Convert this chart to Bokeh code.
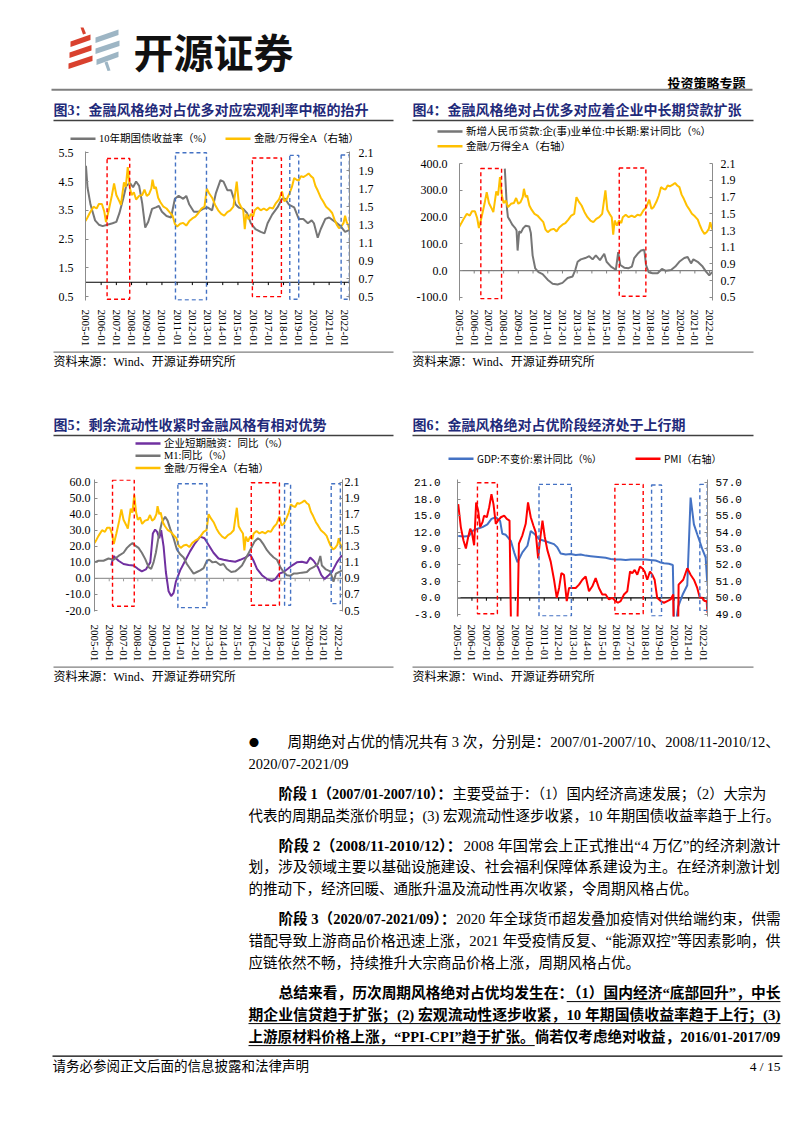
import math
from bokeh.plotting import figure
from bokeh.layouts import column, row
from bokeh.models import Range1d, LinearAxis, FixedTicker, Span, NumeralTickFormatter
from bokeh.core.properties import value
from bokeh.embed import file_html
from bokeh.resources import INLINE

# ---------------------------------------------------------------- data
YEARS = list(range(2005, 2023))
YEAR_LABELS = {y: "%d-01" % y for y in YEARS}

# 金融/万得全A (right axis of charts 3, 4, 5)
FIN_RATIO = [(2004.97, 1.34), (2005.1, 1.38), (2005.25, 1.43), (2005.5, 1.50), (2005.7, 1.48), (2005.85, 1.53),
             (2006.05, 1.53), (2006.2, 1.45), (2006.32, 1.33), (2006.5, 1.46), (2006.7, 1.62), (2006.85, 1.76),
             (2007.0, 1.63), (2007.2, 1.56), (2007.3, 1.52), (2007.5, 1.77), (2007.62, 1.72), (2007.75, 1.94),
             (2007.88, 1.72), (2008.0, 1.63), (2008.15, 1.66), (2008.3, 1.58), (2008.5, 1.62), (2008.7, 1.63),
             (2008.85, 1.69), (2009.0, 1.62), (2009.15, 1.64), (2009.3, 1.70), (2009.38, 1.80), (2009.5, 1.70),
             (2009.6, 1.72), (2009.75, 1.60), (2009.9, 1.55), (2010.1, 1.50), (2010.3, 1.48), (2010.5, 1.44),
             (2010.7, 1.40), (2010.85, 1.31), (2011.0, 1.28), (2011.2, 1.31), (2011.4, 1.32), (2011.6, 1.29),
             (2011.8, 1.34), (2012.0, 1.37), (2012.2, 1.39), (2012.4, 1.43), (2012.6, 1.48), (2012.8, 1.50),
             (2012.95, 1.70), (2013.1, 1.65), (2013.3, 1.60), (2013.5, 1.52), (2013.7, 1.46), (2013.9, 1.42),
             (2014.1, 1.40), (2014.3, 1.44), (2014.5, 1.46), (2014.7, 1.50), (2014.92, 1.78), (2015.05, 1.55),
             (2015.2, 1.50), (2015.35, 1.46), (2015.45, 1.25), (2015.55, 1.42), (2015.7, 1.36), (2015.85, 1.42),
             (2016.0, 1.39), (2016.1, 1.46), (2016.3, 1.49), (2016.5, 1.46), (2016.7, 1.48), (2016.9, 1.46),
             (2017.1, 1.49), (2017.3, 1.48), (2017.5, 1.54), (2017.7, 1.58), (2017.9, 1.67), (2018.05, 1.56),
             (2018.2, 1.58), (2018.4, 1.65), (2018.55, 1.72), (2018.7, 1.82), (2018.85, 1.80), (2019.0, 1.79),
             (2019.15, 1.84), (2019.3, 1.83), (2019.5, 1.85), (2019.65, 1.87), (2019.8, 1.84), (2019.95, 1.82),
             (2020.1, 1.73), (2020.25, 1.68), (2020.45, 1.60), (2020.6, 1.56), (2020.8, 1.50), (2021.0, 1.47),
             (2021.2, 1.43), (2021.35, 1.36), (2021.5, 1.30), (2021.65, 1.26), (2021.8, 1.28), (2021.95, 1.32),
             (2022.05, 1.40), (2022.15, 1.33), (2022.25, 1.30), (2022.34, 1.24)]

# 10年期国债收益率 (%)
BOND_10Y = [(2005.0, 5.05), (2005.1, 4.3), (2005.3, 3.7), (2005.6, 3.15), (2005.85, 3.0), (2006.1, 2.95),
            (2006.4, 3.0), (2006.75, 3.05), (2007.0, 3.1), (2007.2, 3.4), (2007.45, 3.9), (2007.65, 4.35),
            (2007.9, 4.45), (2008.1, 4.3), (2008.3, 4.5), (2008.5, 4.35), (2008.7, 3.75), (2008.9, 2.9),
            (2009.1, 3.1), (2009.35, 3.55), (2009.6, 3.6), (2009.8, 3.65), (2010.0, 3.45), (2010.3, 3.3),
            (2010.6, 3.25), (2010.85, 3.9), (2011.1, 4.0), (2011.4, 3.9), (2011.6, 4.0), (2011.8, 3.7),
            (2012.1, 3.45), (2012.4, 3.45), (2012.7, 3.55), (2013.0, 3.6), (2013.3, 3.5), (2013.55, 4.1),
            (2013.85, 4.55), (2014.05, 4.5), (2014.3, 4.2), (2014.55, 4.2), (2014.85, 3.7), (2015.05, 3.6),
            (2015.35, 3.55), (2015.6, 3.4), (2015.85, 3.05), (2016.15, 2.85), (2016.5, 2.75), (2016.75, 2.7),
            (2016.95, 3.05), (2017.25, 3.35), (2017.6, 3.6), (2017.9, 3.9), (2018.1, 3.9), (2018.35, 3.7),
            (2018.7, 3.6), (2019.0, 3.2), (2019.3, 3.2), (2019.6, 3.05), (2019.85, 3.15), (2020.0, 3.05),
            (2020.25, 2.55), (2020.45, 2.85), (2020.75, 3.2), (2021.0, 3.25), (2021.4, 3.1), (2021.75, 2.95),
            (2022.05, 2.75), (2022.34, 2.82)]

# 新增人民币贷款:企(事)业单位:中长期:累计同比 (%)
LOAN_YOY = [(2008.08, 382), (2008.15, 310), (2008.22, 237), (2008.29, 201), (2008.42, 189), (2008.6, 171),
            (2008.79, 159), (2008.88, 150), (2008.95, 75), (2009.06, 147), (2009.17, 141), (2009.33, 159),
            (2009.5, 168), (2009.74, 165), (2009.85, 141), (2009.97, 57), (2010.15, 8), (2010.37, -6),
            (2010.65, -13), (2010.99, -34), (2011.33, -49), (2011.67, -52), (2012.0, -46), (2012.35, -28),
            (2012.69, -22), (2012.87, 2), (2013.03, 33), (2013.25, 42), (2013.55, 47), (2013.82, 54),
            (2014.05, 42), (2014.27, 57), (2014.55, 39), (2014.84, 63), (2015.0, 33), (2015.3, 15),
            (2015.63, 3), (2015.79, 69), (2015.93, 21), (2016.2, 11), (2016.5, 9), (2016.72, 15),
            (2016.88, 47), (2017.11, 63), (2017.34, 75), (2017.56, 78), (2017.68, 21), (2017.86, -6),
            (2018.13, -10), (2018.47, -10), (2018.76, 6), (2019.04, -1), (2019.38, 2), (2019.67, 15),
            (2019.94, 33), (2020.28, 47), (2020.51, 51), (2020.74, 27), (2020.9, 42), (2021.19, 33),
            (2021.53, 15), (2021.76, -4), (2021.98, -18), (2022.17, -6)]

# 企业短期融资：同比 (%)
SHORT_FIN = [(2006.14, 8), (2006.3, 14), (2006.65, 11), (2007.0, 9), (2007.35, 8.4), (2007.7, 8), (2008.0, 6),
             (2008.28, 4.4), (2008.56, 5.6), (2008.87, 10), (2009.05, 28), (2009.21, 30.4), (2009.35, 29),
             (2009.5, 25), (2009.63, 30), (2009.8, 20), (2009.96, 4), (2010.15, -8), (2010.33, -11),
             (2010.5, -9), (2010.66, -2), (2010.96, 5), (2011.31, 11), (2011.66, 17), (2012.01, 22),
             (2012.36, 26), (2012.66, 25), (2012.94, 21), (2013.29, 16), (2013.64, 12.4), (2013.99, 11.6),
             (2014.34, 11), (2014.81, 10.4), (2015.16, 11.6), (2015.51, 13), (2015.86, 15), (2016.09, 11),
             (2016.33, 6), (2016.68, 2), (2017.03, -0.4), (2017.37, -1.6), (2017.61, -0.4), (2017.89, 3),
             (2018.19, 4), (2018.49, 6), (2018.77, 8), (2019.12, 10), (2019.47, 10.4), (2019.82, 9.6),
             (2020.05, 13), (2020.29, 11), (2020.59, 7), (2020.83, 2), (2021.06, -0.4), (2021.3, 1.6),
             (2021.57, 4), (2021.92, 10), (2022.27, 14.4)]

# M1:同比 (%)
M1_YOY = [(2004.97, 10), (2005.25, 11), (2005.6, 11), (2005.95, 12.4), (2006.3, 11.6), (2006.65, 14),
          (2007.0, 16), (2007.24, 19), (2007.47, 21), (2007.63, 22), (2007.82, 20.4), (2008.05, 19),
          (2008.28, 16), (2008.52, 12), (2008.75, 7), (2008.93, 6), (2009.1, 10), (2009.26, 16),
          (2009.45, 26), (2009.68, 35), (2009.91, 38.4), (2010.08, 36), (2010.26, 31), (2010.5, 25),
          (2010.73, 18), (2010.96, 15), (2011.2, 13), (2011.43, 9), (2011.66, 6), (2011.9, 3), (2012.13, 4),
          (2012.36, 5), (2012.6, 6.4), (2012.83, 11), (2013.0, 11.6), (2013.22, 10), (2013.46, 10.4),
          (2013.76, 8.4), (2013.99, 9), (2014.22, 6), (2014.53, 4), (2014.81, 4.4), (2015.04, 6),
          (2015.28, 8), (2015.46, 11), (2015.7, 15), (2015.93, 19), (2016.16, 23), (2016.4, 25),
          (2016.56, 24), (2016.8, 21), (2017.03, 17.6), (2017.27, 15), (2017.5, 13), (2017.73, 11.6),
          (2017.97, 7), (2018.19, 4), (2018.42, 2), (2018.65, 1.6), (2018.89, 3), (2019.12, 3),
          (2019.47, 3.6), (2019.82, 4), (2020.05, 6), (2020.29, 7), (2020.59, 9), (2020.76, 14),
          (2020.87, 8), (2021.15, 5.6), (2021.45, 4.4), (2021.68, -2), (2021.85, 3), (2022.08, 4),
          (2022.27, 5)]

# GDP:不变价:累计同比 (%)
GDP_YOY = [(2005.05, 11.3), (2005.46, 11.2), (2005.8, 11.3), (2006.04, 12.2), (2006.38, 12.6), (2006.73, 12.9),
           (2007.07, 13.4), (2007.35, 14.4), (2007.65, 14.7), (2007.95, 14.0), (2008.1, 11.7), (2008.34, 11.5),
           (2008.69, 10.4), (2008.92, 8.3), (2009.15, 6.5), (2009.49, 8.3), (2009.84, 9.5), (2010.07, 12.2),
           (2010.35, 11.6), (2010.65, 10.7), (2010.99, 10.4), (2011.34, 10.1), (2011.68, 9.8), (2011.91, 9.2),
           (2012.14, 8.1), (2012.49, 7.9), (2012.83, 8.0), (2013.18, 7.8), (2013.53, 7.9), (2013.87, 7.7),
           (2014.22, 7.6), (2014.56, 7.5), (2014.91, 7.4), (2015.25, 7.3), (2015.6, 7.1), (2015.94, 7.0),
           (2016.29, 7.0), (2016.64, 6.9), (2016.98, 7.0), (2017.33, 7.0), (2017.67, 7.0), (2018.02, 7.0),
           (2018.36, 6.9), (2018.71, 6.8), (2019.0, 6.5), (2019.29, 6.3), (2019.63, 6.2), (2019.9, 6.0),
           (2020.0, -6.8), (2020.27, -1.6), (2020.6, 0.7), (2020.9, 2.3), (2021.13, 18.3), (2021.36, 13.4),
           (2021.59, 11.6), (2021.94, 8.9), (2022.17, 7.4), (2022.28, 2.9)]

# PMI (right axis)
PMI = [(2005.05, 55.7), (2005.23, 54.3), (2005.41, 53.5), (2005.58, 53.0), (2005.74, 53.7), (2005.88, 54.2),
       (2005.99, 54.0), (2006.15, 53.2), (2006.29, 55.8), (2006.43, 55.3), (2006.57, 54.3), (2006.73, 54.6),
       (2006.84, 55.0), (2007.03, 54.9), (2007.19, 55.5), (2007.35, 56.3), (2007.49, 55.7), (2007.65, 54.5),
       (2007.81, 54.7), (2008.0, 54.9), (2008.23, 55.0), (2008.41, 54.8), (2008.6, 54.7), (2008.85, 38.8),
       (2009.0, 41.2), (2009.25, 53.3), (2009.49, 53.8), (2009.72, 54.5), (2009.88, 55.8), (2010.07, 54.9),
       (2010.25, 54.4), (2010.41, 54.0), (2010.58, 52.4), (2010.71, 53.5), (2010.88, 54.7), (2011.04, 53.7),
       (2011.22, 52.9), (2011.45, 52.2), (2011.68, 51.1), (2011.87, 50.0), (2012.03, 50.6), (2012.19, 51.5),
       (2012.37, 51.4), (2012.56, 49.8), (2012.72, 50.6), (2012.88, 50.6), (2013.18, 50.6), (2013.41, 50.8),
       (2013.64, 51.1), (2013.87, 51.3), (2014.1, 50.4), (2014.33, 50.7), (2014.56, 51.2), (2014.79, 50.6),
       (2015.02, 50.2), (2015.25, 50.2), (2015.48, 49.9), (2015.71, 50.0), (2015.94, 49.8), (2016.1, 49.7),
       (2016.29, 49.8), (2016.52, 50.2), (2016.75, 50.4), (2016.94, 51.6), (2017.1, 51.5), (2017.26, 51.7),
       (2017.44, 51.4), (2017.63, 51.9), (2017.79, 51.8), (2017.95, 51.6), (2018.13, 51.1), (2018.32, 51.6),
       (2018.48, 51.4), (2018.64, 51.1), (2018.82, 50.0), (2019.06, 49.8), (2019.29, 49.7), (2019.52, 49.8),
       (2019.75, 49.9), (2019.93, 50.2), (2020.12, 35.7), (2020.3, 50.8), (2020.62, 51.1), (2020.9, 51.8),
       (2021.13, 51.4), (2021.36, 51.1), (2021.59, 50.6), (2021.77, 50.0), (2021.94, 50.0), (2022.1, 49.8),
       (2022.24, 49.8), (2022.3, 49.1)]

# highlighted periods (dashed boxes): kind r = red box, b = blue box
BOX3_KIND = ["r", "b", "r", "b", "b"]
BOX3_X0 = [2006.39, 2010.89, 2015.95, 2018.41, 2021.79]
BOX3_X1 = [2007.88, 2012.93, 2017.86, 2019.0, 2022.33]
BOX3_Y0 = [0.41, 0.38, 0.5, 0.41, 0.41]
BOX3_Y1 = [5.3, 5.5, 5.32, 5.41, 5.42]

BOX4_KIND = ["r", "r"]
BOX4_X0 = [2006.45, 2015.86]
BOX4_X1 = [2007.86, 2017.67]
BOX4_Y0 = [-105, -96]
BOX4_Y1 = [382, 384]

BOX5_KIND = ["r", "b", "r", "b", "b"]
BOX5_X0 = [2006.23, 2010.8, 2015.93, 2018.26, 2021.52]
BOX5_X1 = [2007.75, 2012.83, 2017.9, 2018.68, 2022.16]
BOX5_Y0 = [-17.3, -18.2, -16.7, -16.7, -15.7]
BOX5_Y1 = [61.2, 59, 59.6, 59, 59]

BOX6_KIND = ["r", "b", "r", "b", "b"]
BOX6_X0 = [2006.38, 2010.64, 2015.89, 2018.43, 2021.77]
BOX6_X1 = [2007.76, 2012.88, 2017.85, 2019.12, 2022.28]
BOX6_Y0 = [-2.9, -3.3, -2.9, -3.3, -2.3]
BOX6_Y1 = [21.0, 20.7, 20.7, 20.6, 20.7]

# ---------------------------------------------------------------- styles
SERIF = "Liberation Serif, Noto Sans CJK SC"
SANS = "Noto Sans CJK SC"
MONO = "Liberation Mono"
NAVY = "#1F2A7A"
AXC = "#8C8C8C"
GOLD = "#FFC000"
GREY = "#767676"
PURPLE = "#7030A0"
BLUE = "#4472C4"
RED = "#FF0000"
BOX_COLORS = {"r": "#FF0000", "b": "#4472C4"}


def xs(d):
    return [a for a, b in d]


def ys(d):
    return [b for a, b in d]


def no_align(p):
    try:
        p.frame_align = False
    except Exception:
        pass
    return p


def canvas(x0, y0, w, h):
    p = figure(width=w, height=h, x_range=Range1d(x0, x0 + w), y_range=Range1d(y0 + h, y0),
               x_axis_type=None, y_axis_type=None, toolbar_location=None,
               output_backend="svg", min_border=0, outline_line_color=None)
    return no_align(p)


def text(p, x, y, s, size, font=SERIF, color="#000000", bold=False, align="left"):
    p.text(x=[x], y=[y], text=[s], text_font=value(font), text_font_size=value("%.2fpx" % size),
           text_font_style=value("bold" if bold else "normal"), text_color=value(color),
           text_align=value(align), text_baseline=value("middle"))


def hline(p, x0, x1, y, color, width):
    p.segment(x0=[x0], y0=[y], x1=[x1], y1=[y], line_color=color, line_width=width)


def chart(w, h, borders, xr, yl, yr, lticks, rticks, yfont, ysize, lstand, rstand, xstand):
    bl, br, bt, bb = borders
    p = figure(width=w, height=h, x_range=Range1d(*xr), y_range=Range1d(*yl),
               toolbar_location=None, output_backend="svg",
               min_border_left=bl, min_border_right=br, min_border_top=bt, min_border_bottom=bb,
               outline_line_color=None)
    no_align(p)
    p.xgrid.visible = False
    p.ygrid.visible = False
    la = p.yaxis[0]
    p.extra_y_ranges = {"r": Range1d(*yr)}
    ra = LinearAxis(y_range_name="r")
    p.add_layout(ra, "right")
    for ax, ticks, st in ((la, lticks, lstand), (ra, rticks, rstand)):
        ax.ticker = FixedTicker(ticks=ticks)
        ax.formatter = NumeralTickFormatter(format="0.0")
        ax.axis_line_color = AXC
        ax.axis_line_width = 1
        ax.major_tick_line_color = AXC
        ax.major_tick_in = 3
        ax.major_tick_out = 0
        ax.minor_tick_line_color = None
        ax.major_label_standoff = st
        ax.major_label_text_font = yfont
        ax.major_label_text_font_size = ysize
        ax.major_label_text_color = "#000000"
    xa = p.xaxis[0]
    xa.ticker = FixedTicker(ticks=YEARS)
    xa.major_label_overrides = YEAR_LABELS
    xa.major_label_orientation = -math.pi / 2
    xa.axis_line_color = None
    xa.major_tick_line_color = None
    xa.minor_tick_line_color = None
    xa.major_label_standoff = xstand
    xa.major_label_text_font = "Liberation Serif"
    xa.major_label_text_font_size = "11px"
    xa.major_label_text_color = "#000000"
    return p


def zero_line(p, level, color, tick_len):
    sp = Span(location=level, dimension="width", line_color=color, line_width=1.2)
    sp.level = "underlay"
    p.add_layout(sp)
    t = YEARS[1:]
    p.segment(x0=t, y0=[level] * len(t), x1=t, y1=[level - tick_len] * len(t),
              line_color=color, line_width=1)


def boxes(p, kind, x0, x1, y0, y1):
    p.quad(left=x0, right=x1, bottom=y0, top=y1, fill_color=None,
           line_color=[BOX_COLORS[k] for k in kind], line_dash="4 3", line_width=1.4)


def legend_item(p, x, y, color, label, size=10.5, font=SERIF):
    hline(p, x, x + 25, y, color, 2.5)
    text(p, x + 28.5, y, label, size, font=font)


# ---------------------------------------------------------------- header
hdr = canvas(0, 0, 802, 100)
RED_LOGO = [[(70, 41), (90, 34), (90, 39.5), (70, 46.5)],
            [(69, 52), (91, 44.5), (91, 50), (69, 57.5)],
            [(68, 63), (92, 55), (92, 60.5), (68, 68.5)],
            [(80, 27), (83, 27), (85.5, 33), (82.5, 34)]]
BLUE_LOGO = [[(95, 37), (118, 29), (118, 34.5), (95, 42.5)],
             [(95, 48), (119, 40), (119, 45.5), (95, 53.5)],
             [(96, 59), (118, 51), (118, 56.5), (96, 64.5)],
             [(104, 62), (107, 61), (110, 70), (107, 70.5)]]
for polys, col in ((RED_LOGO, "#D9412E"), (BLUE_LOGO, "#9DB5C4")):
    hdr.patches(xs=[[pt[0] for pt in pl] for pl in polys], ys=[[pt[1] for pt in pl] for pl in polys],
                fill_color=col, line_color=None)
text(hdr, 133, 50, "开源证券", 40, font=SANS, bold=True, color="#111111")
text(hdr, 745, 81.5, "投资策略专题", 13, font=SANS, bold=True, align="right")
hline(hdr, 51, 752, 89.3, "#7F7F7F", 2)

# ---------------------------------------------------------------- chart 3
t3 = canvas(0, 100, 402, 45)
text(t3, 53, 110, "图3：金融风格绝对占优多对应宏观利率中枢的抬升", 14, color=NAVY, bold=True)
hline(t3, 53, 393, 120, "#404040", 1.3)
legend_item(t3, 70, 138.3, GREY, "10年期国债收益率（%）")
legend_item(t3, 225, 138.3, GOLD, "金融/万得全A（右轴）")

p3 = chart(402, 204, (85, 53, 6, 44), (2004.97, 2022.34), (0.365, 5.544), (0.4568, 2.114),
           [0.5, 1.5, 2.5, 3.5, 4.5, 5.5], [0.5, 0.7, 0.9, 1.1, 1.3, 1.5, 1.7, 1.9, 2.1],
           "Liberation Serif", "12px", 12, 9, 3)
zero_line(p3, 1.0, "#000000", 0.1)
p3.line(xs(BOND_10Y), ys(BOND_10Y), line_color=GREY, line_width=2)
p3.line(xs(FIN_RATIO), ys(FIN_RATIO), line_color=GOLD, line_width=2, y_range_name="r")
boxes(p3, BOX3_KIND, BOX3_X0, BOX3_X1, BOX3_Y0, BOX3_Y1)

s3 = canvas(0, 349, 402, 23)
hline(s3, 53, 393, 351.7, "#7F7F7F", 1.2)
text(s3, 53, 361.7, "资料来源：Wind、开源证券研究所", 12)

# ---------------------------------------------------------------- chart 4
t4 = canvas(402, 100, 400, 53)
text(t4, 412, 110, "图4：金融风格绝对占优多对应着企业中长期贷款扩张", 14, color=NAVY, bold=True)
hline(t4, 412, 753, 120, "#404040", 1.3)
legend_item(t4, 437, 131, GREY, "新增人民币贷款:企(事)业单位:中长期:累计同比（%）")
legend_item(t4, 437, 145.7, GOLD, "金融/万得全A（右轴）")

p4 = chart(400, 196, (57, 90, 10, 44), (2005.0, 2022.2), (-112, 401), (0.4616, 2.1032),
           [-100, 0, 100, 200, 300, 400], [0.5, 0.7, 0.9, 1.1, 1.3, 1.5, 1.7, 1.9, 2.1],
           "Liberation Serif", "12px", 12, 8, 3)
zero_line(p4, 0, "#7F7F7F", 10.8)
p4.line(xs(LOAN_YOY), ys(LOAN_YOY), line_color=GREY, line_width=2)
p4.line(xs(FIN_RATIO), ys(FIN_RATIO), line_color=GOLD, line_width=2, y_range_name="r")
boxes(p4, BOX4_KIND, BOX4_X0, BOX4_X1, BOX4_Y0, BOX4_Y1)

s4 = canvas(402, 349, 400, 23)
hline(s4, 412, 753, 351.7, "#7F7F7F", 1.2)
text(s4, 412, 361.7, "资料来源：Wind、开源证券研究所", 12)

# ---------------------------------------------------------------- chart 5
t5 = canvas(0, 372, 402, 102)
text(t5, 53, 425, "图5：剩余流动性收紧时金融风格有相对优势", 14, color=NAVY, bold=True)
hline(t5, 53, 393, 435, "#404040", 1.3)
legend_item(t5, 135, 443, PURPLE, "企业短期融资：同比（%）")
legend_item(t5, 135, 455.3, GREY, "M1:同比（%）")
legend_item(t5, 135, 467.6, GOLD, "金融/万得全A（右轴）")

p5 = chart(402, 190, (94, 60, 5, 48), (2004.97, 2022.31), (-20.6, 61.6), (0.488, 2.132),
           [-20, -10, 0, 10, 20, 30, 40, 50, 60], [0.5, 0.7, 0.9, 1.1, 1.3, 1.5, 1.7, 1.9, 2.1],
           "Liberation Serif", "12px", 4, 2, 7)
zero_line(p5, 0, "#9A9A9A", 1.8)
p5.line(xs(SHORT_FIN), ys(SHORT_FIN), line_color=PURPLE, line_width=2)
p5.line(xs(M1_YOY), ys(M1_YOY), line_color=GREY, line_width=2)
p5.line(xs(FIN_RATIO), ys(FIN_RATIO), line_color=GOLD, line_width=2, y_range_name="r")
boxes(p5, BOX5_KIND, BOX5_X0, BOX5_X1, BOX5_Y0, BOX5_Y1)

s5 = canvas(0, 664, 402, 26)
hline(s5, 53, 393, 666.7, "#7F7F7F", 1.2)
text(s5, 53, 676.7, "资料来源：Wind、开源证券研究所", 12)

# ---------------------------------------------------------------- chart 6
t6 = canvas(402, 372, 400, 98)
text(t6, 412, 425, "图6：金融风格绝对占优阶段经济处于上行期", 14, color=NAVY, bold=True)
hline(t6, 412, 753, 435, "#404040", 1.3)
legend_item(t6, 448, 458.3, BLUE, "GDP:不变价:累计同比（%）", size=10, font=SANS)
legend_item(t6, 635, 458.3, RED, "PMI（右轴）", size=10, font=SANS)

p6 = chart(400, 194, (55, 95, 9, 46), (2005.0, 2022.3), (-3.41, 21.59), (48.863, 57.197),
           [-3, 0, 3, 6, 9, 12, 15, 18, 21], [49, 50, 51, 52, 53, 54, 55, 56, 57],
           MONO, "11px", 17, 8, 2)
zero_line(p6, 0, "#000000", 0.54)
p6.line(xs(GDP_YOY), ys(GDP_YOY), line_color=BLUE, line_width=2)
p6.line(xs(PMI), ys(PMI), line_color=RED, line_width=2, y_range_name="r")
boxes(p6, BOX6_KIND, BOX6_X0, BOX6_X1, BOX6_Y0, BOX6_Y1)

s6 = canvas(402, 664, 400, 26)
hline(s6, 412, 753, 666.7, "#7F7F7F", 1.2)
text(s6, 412, 676.7, "资料来源：Wind、开源证券研究所", 12)

# ---------------------------------------------------------------- body text
BODY = [
    (287, 741.7, True, [("周期绝对占优的情况共有 3 次，分别是：2007/01-2007/10、2008/11-2010/12、", 0, 0)]),
    (248, 763.7, False, [("2020/07-2021/09", 0, 0)]),
    (278, 793.3, True, [("阶段 1（2007/01-2007/10）：", 1, 0), ("主要受益于：（1）国内经济高速发展；（2）大宗为", 0, 0)]),
    (248, 815.3, False, [("代表的周期品类涨价明显；(3) 宏观流动性逐步收紧，10 年期国债收益率趋于上行。", 0, 0)]),
    (278, 844.9, True, [("阶段 2（2008/11-2010/12）：", 1, 0), ("2008 年国常会上正式推出“4 万亿”的经济刺激计", 0, 0)]),
    (248, 866.9, True, [("划，涉及领域主要以基础设施建设、社会福利保障体系建设为主。在经济刺激计划", 0, 0)]),
    (248, 888.9, False, [("的推动下，经济回暖、通胀升温及流动性再次收紧，令周期风格占优。", 0, 0)]),
    (278, 918.5, True, [("阶段 3（2020/07-2021/09）：", 1, 0), ("2020 年全球货币超发叠加疫情对供给端约束，供需", 0, 0)]),
    (248, 940.5, True, [("错配导致上游商品价格迅速上涨，2021 年受疫情反复、“能源双控”等因素影响，供", 0, 0)]),
    (248, 962.5, False, [("应链依然不畅，持续推升大宗商品价格上涨，周期风格占优。", 0, 0)]),
    (278, 992.1, True, [("总结来看，历次周期风格绝对占优均发生在：", 1, 0), ("（1）国内经济“底部回升”，中长", 1, 1)]),
    (248, 1014.1, True, [("期企业信贷趋于扩张；(2) 宏观流动性逐步收紧，10 年期国债收益率趋于上行；(3)", 1, 1)]),
    (248, 1036.1, True, [("上游原材料价格上涨，“PPI-CPI”趋于扩张。", 1, 1), ("倘若仅考虑绝对收益，2016/01-2017/09", 1, 0)]),
]
LATIN_W = {" ": 0.25, "/": 0.278, "-": 0.333, "(": 0.333, ")": 0.333, ".": 0.25,
           "P": 0.611, "I": 0.389, "C": 0.722}


def est_em(s, bold):
    w = 0.0
    for i, ch in enumerate(s):
        if ch == "：" and i == len(s) - 1:
            w += 0.55
        elif ord(ch) >= 0x2E80:
            w += 1.0
        elif ch in "“”":
            w += 0.5 if bold else 0.444
        elif ch.isdigit():
            w += 0.5
        else:
            w += LATIN_W.get(ch, 0.6)
    return w


RIGHT_EDGE = 780
tb = canvas(0, 690, 802, 441)
text(tb, 248.5, 741.7, "●", 10, font=SANS)
for x, y, just, segs in BODY:
    total = sum(est_em(t, b) for t, b, u in segs)
    size = (RIGHT_EDGE - x) / total if just else 14.5
    cx = x
    for t, b, u in segs:
        w = est_em(t, b) * size
        text(tb, cx, y, t, size, bold=bool(b))
        if u:
            hline(tb, cx, cx + w, y + 9, "#000000", 1)
        cx += w
hline(tb, 52, 782, 1055.7, "#000000", 1.2)
text(tb, 52, 1066, "请务必参阅正文后面的信息披露和法律声明", 13.5)
text(tb, 780, 1066, "4 / 15", 13.5, align="right")

# ---------------------------------------------------------------- layout
page = column(
    hdr,
    row(column(t3, p3, s3), column(t4, p4, s4)),
    row(column(t5, p5, s5), column(t6, p6, s6)),
    tb,
)

open("out.html", "w").write(file_html(page, INLINE))
